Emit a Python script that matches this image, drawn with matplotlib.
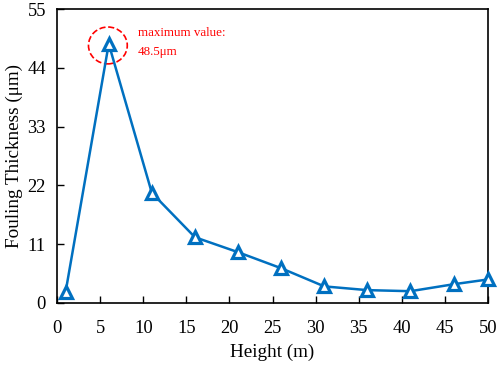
import matplotlib.pyplot as plt
from matplotlib.patches import Ellipse

plt.rcParams['font.family'] = ['Liberation Serif', 'DejaVu Serif']
plt.rcParams['mathtext.fontset'] = 'stix'

height = [1, 6, 11, 16, 21, 26, 31, 36, 41, 46, 50]
thickness = [2.1, 48.5, 20.6, 12.3, 9.5, 6.5, 3.1, 2.4, 2.2, 3.5, 4.4]
xticks = [0, 5, 10, 15, 20, 25, 30, 35, 40, 45, 50]
yticks = [0, 11, 22, 33, 44, 55]

fig = plt.figure(figsize=(4.98, 3.65), dpi=100)
ax = fig.add_axes([0.1145, 0.17, 0.8655, 0.805])

ax.plot(height, thickness, color='#0070C0', lw=1.8, marker='^', ms=8.5,
        mfc='white', mec='#0070C0', mew=2.3, clip_on=False, zorder=5)

ax.set_xlim(0, 50)
ax.set_ylim(0, 55)
ax.set_xticks(xticks)
ax.set_yticks(yticks)
ax.tick_params(direction='in', labelsize=13.3, length=5, width=1)
ax.tick_params(axis='x', pad=12)
ax.tick_params(axis='y', pad=8)
ax.set_xlabel('Height (m)', fontsize=13.8, labelpad=5)
ax.set_ylabel('Fouling Thickness (μm)', fontsize=13.8, labelpad=3)
for s in ax.spines.values():
    s.set_linewidth(1.2)

ax.add_patch(Ellipse((5.9, 48.2), 4.5, 6.9, fill=False, ec='red', ls='--', lw=1.2))
ax.text(9.4, 48.8, 'maximum value:\n48.5μm', color='red', fontsize=9.4,
        va='center', ha='left', linespacing=1.75)

fig.savefig('out.png', dpi=100)
